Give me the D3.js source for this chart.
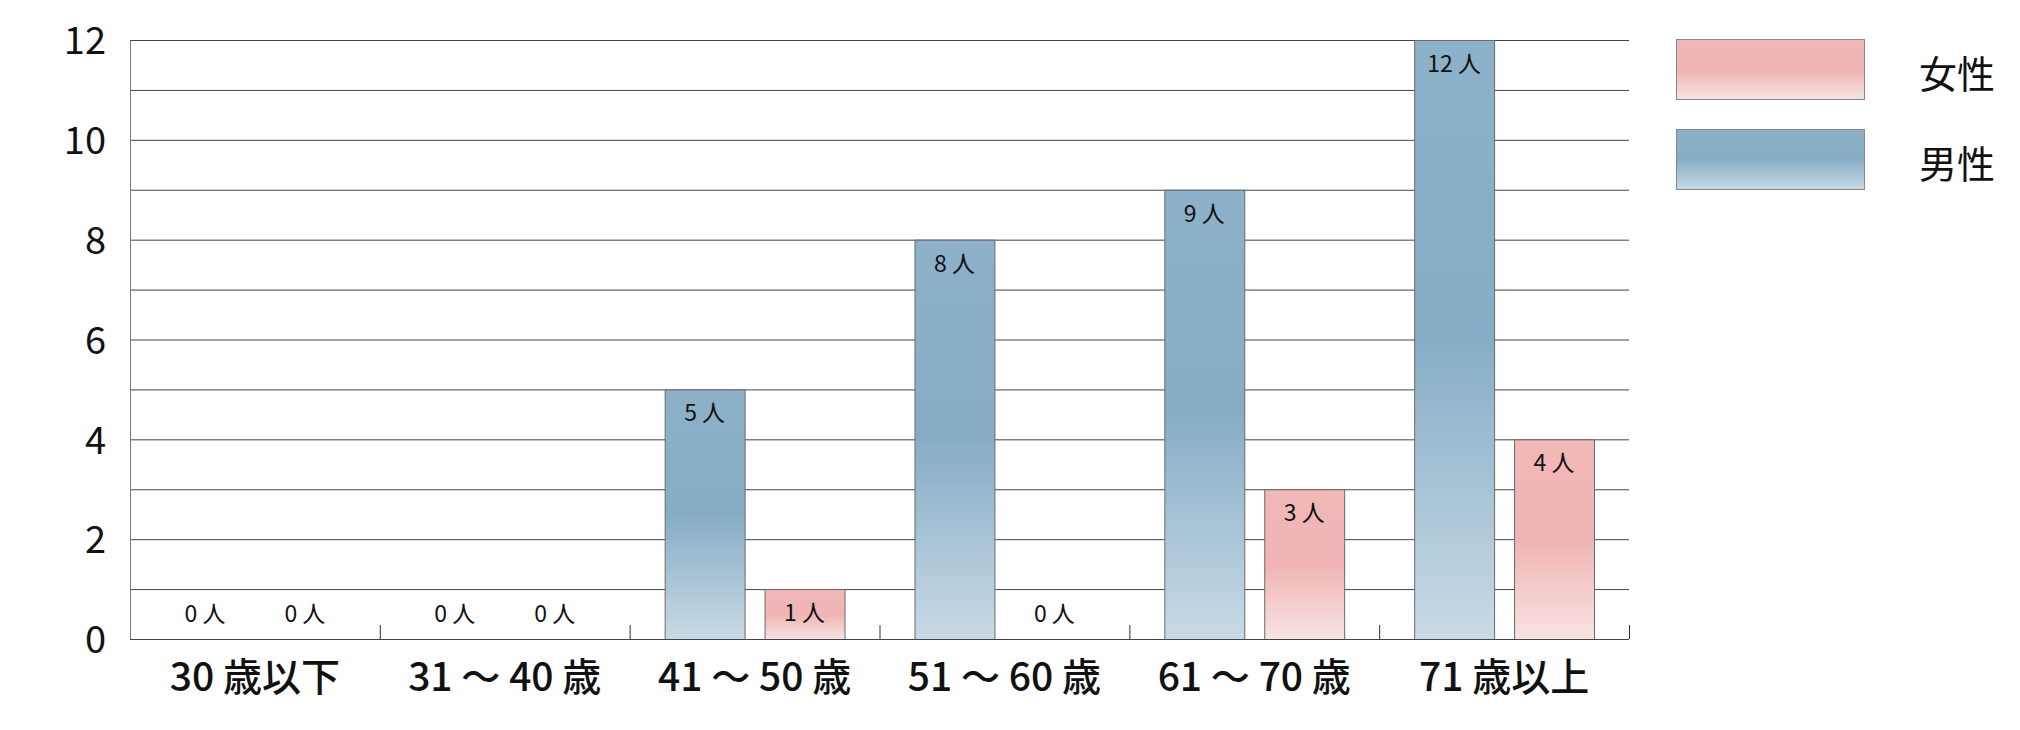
<!DOCTYPE html>
<html>
<head>
<meta charset="utf-8">
<script src="https://cdn.jsdelivr.net/npm/d3@7"></script>
<style>
  body { margin: 0; background: #fff; }
  text { font-family: "Noto Sans CJK JP", "Noto Sans", sans-serif; fill: #111; }
</style>
</head>
<body>
<div id="chart"></div>
<script>
// data
const ageGroups = ['30 歳以下', '31 〜 40 歳', '41 〜 50 歳', '51 〜 60 歳', '61 〜 70 歳', '71 歳以上'];
const maleCounts = [0, 0, 5, 8, 9, 12];
const femaleCounts = [0, 0, 1, 0, 3, 4];
const yTicks = [0, 2, 4, 6, 8, 10, 12];
const seriesNames = ['男性', '女性'];

const width = 2020;
const height = 730;
const margin = { top: 40, right: 391, bottom: 91, left: 130 };
const w = width - margin.left - margin.right;
const h = height - margin.top - margin.bottom;

const svg = d3.select('#chart').append('svg')
  .attr('width', width)
  .attr('height', height);

// gradients for the bars
const defs = svg.append('defs');
function addGradient(id, top, mid, bottom) {
  const g = defs.append('linearGradient')
    .attr('id', id)
    .attr('x1', 0).attr('y1', 0).attr('x2', 0).attr('y2', 1);
  g.append('stop').attr('offset', '0%').attr('stop-color', top);
  g.append('stop').attr('offset', '50%').attr('stop-color', mid);
  g.append('stop').attr('offset', '100%').attr('stop-color', bottom);
}
addGradient('gradMale', '#8cb1c9', '#87adc6', '#c8dae5');
addGradient('gradFemale', '#f1b8b8', '#f0b4b4', '#f8e3e3');
const fills = { '男性': 'url(#gradMale)', '女性': 'url(#gradFemale)' };

const g = svg.append('g')
  .attr('transform', `translate(${margin.left}, ${margin.top})`);

const x0 = d3.scaleBand().domain(ageGroups).range([0, w]).padding(0);
const x1 = d3.scaleBand().domain(seriesNames)
  .range([35, x0.bandwidth() - 35])
  .paddingInner(0.2)
  .paddingOuter(0);
const y = d3.scaleLinear().domain([0, 12]).range([h, 0]);

// gridlines every unit
g.append('g')
  .selectAll('line')
  .data(d3.range(1, 13))
  .join('line')
  .attr('x1', 0)
  .attr('x2', w)
  .attr('y1', (d) => y(d) + 0.5)
  .attr('y2', (d) => y(d) + 0.5)
  .attr('stroke', '#444')
  .attr('stroke-width', 1);

// y axis
const yAxis = d3.axisLeft(y).tickValues(yTicks).tickSize(0).tickPadding(24);
g.append('g')
  .attr('class', 'y axis')
  .call(yAxis)
  .call((s) => s.select('.domain').attr('stroke', '#777'))
  .call((s) => s.selectAll('text')
    .style('font-size', '38px')
    .attr('dy', '0.36em'));

// bars
const rows = ageGroups.map((a, i) => ({
  age: a,
  values: [
    { key: '男性', value: maleCounts[i] },
    { key: '女性', value: femaleCounts[i] },
  ],
}));

const groups = g.append('g')
  .selectAll('g')
  .data(rows)
  .join('g')
  .attr('transform', (d) => `translate(${x0(d.age)}, 0)`);

groups.selectAll('rect')
  .data((d) => d.values.filter((v) => v.value > 0))
  .join('rect')
  .attr('x', (d) => x1(d.key) + 0.5)
  .attr('y', (d) => y(d.value) + 0.5)
  .attr('width', x1.bandwidth())
  .attr('height', (d) => y(0) - y(d.value))
  .attr('fill', (d) => fills[d.key])
  .attr('stroke', '#6a6a6a')
  .attr('stroke-width', 1);

// value labels: inside the top of a bar, or just above the baseline for 0
groups.selectAll('text')
  .data((d) => d.values)
  .join('text')
  .attr('x', (d) => x1(d.key) + x1.bandwidth() / 2)
  .attr('y', (d) => (d.value > 0 ? y(d.value) + 24 : y(0) - 25))
  .attr('dy', '0.35em')
  .attr('text-anchor', 'middle')
  .style('font-size', '23px')
  .text((d) => `${d.value} 人`);

// x axis with upward ticks at group boundaries
const xAxisG = g.append('g')
  .attr('class', 'x axis')
  .attr('transform', `translate(0, ${h})`);

xAxisG.append('line')
  .attr('x1', 0).attr('x2', w)
  .attr('y1', 0.5).attr('y2', 0.5)
  .attr('stroke', '#444');

xAxisG.selectAll('.tick')
  .data(ageGroups)
  .join('line')
  .attr('class', 'tick')
  .attr('x1', (d) => x0(d) + x0.bandwidth() + 0.5)
  .attr('x2', (d) => x0(d) + x0.bandwidth() + 0.5)
  .attr('y1', 0)
  .attr('y2', -14)
  .attr('stroke', '#333');

xAxisG.selectAll('.label')
  .data(ageGroups)
  .join('text')
  .attr('class', 'label')
  .attr('x', (d) => x0(d) + x0.bandwidth() / 2)
  .attr('y', 38)
  .attr('dy', '0.35em')
  .attr('text-anchor', 'middle')
  .style('font-size', '39px')
  .style('font-weight', '500')
  .text((d) => d);

// legend
const legendItems = ['女性', '男性'];
const legend = svg.append('g')
  .attr('transform', 'translate(1676, 39)');

const legendRow = legend.selectAll('g')
  .data(legendItems)
  .join('g')
  .attr('transform', (d, i) => `translate(0, ${i * 90})`);

legendRow.append('rect')
  .attr('x', 0.5).attr('y', 0.5)
  .attr('width', 188)
  .attr('height', 60)
  .attr('fill', (d) => fills[d])
  .attr('stroke', '#888');

legendRow.append('text')
  .attr('x', 243)
  .attr('y', 36)
  .attr('dy', '0.35em')
  .style('font-size', '38px')
  .text((d) => d);
</script>
</body>
</html>
